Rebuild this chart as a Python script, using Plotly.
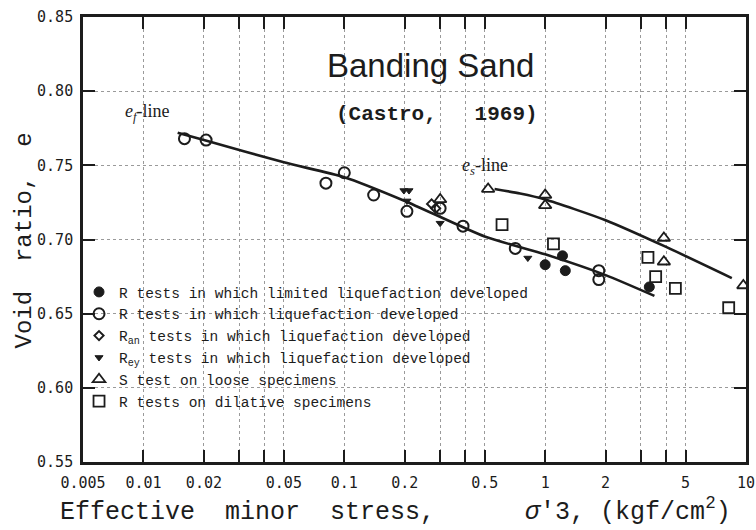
import math
import plotly.graph_objects as go

# ---------------- data ----------------
r_limited_x = [1.0, 1.22, 1.26, 3.3]
r_limited_y = [0.683, 0.689, 0.679, 0.668]

r_liq_x = [0.016, 0.0205, 0.081, 0.10, 0.14, 0.205, 0.30, 0.39, 0.71, 1.85, 1.85]
r_liq_y = [0.768, 0.767, 0.738, 0.745, 0.730, 0.719, 0.721, 0.709, 0.694, 0.679, 0.673]

r_an_x = [0.272, 0.285]
r_an_y = [0.724, 0.721]

r_ey_x = [0.198, 0.21, 0.205, 0.30, 0.82]
r_ey_y = [0.733, 0.733, 0.726, 0.711, 0.6875]

s_loose_x = [0.30, 0.52, 1.0, 1.0, 3.9, 3.9, 9.7]
s_loose_y = [0.727, 0.734, 0.730, 0.723, 0.701, 0.685, 0.669]

r_dil_x = [0.61, 1.1, 3.25, 3.55, 4.45, 8.2]
r_dil_y = [0.710, 0.697, 0.688, 0.675, 0.667, 0.654]

ef_line_x = [0.0148, 0.02, 0.05, 0.1, 0.2, 0.5, 1.0, 2.0, 3.5]
ef_line_y = [0.772, 0.767, 0.752, 0.742, 0.726, 0.702, 0.690, 0.676, 0.662]

es_line_x = [0.56, 0.75, 1.0, 2.0, 4.0, 8.5]
es_line_y = [0.734, 0.731, 0.727, 0.713, 0.695, 0.674]

x_tick_vals = [0.005, 0.01, 0.02, 0.05, 0.1, 0.2, 0.5, 1, 2, 5, 10]
x_tick_text = ["0.005", "0.01", "0.02", "0.05", "0.1", "0.2", "0.5", "1", "2", "5", "10"]
x_minor_vals = [0.03, 0.04, 0.3, 0.4, 3, 4]
y_tick_vals = [0.55, 0.60, 0.65, 0.70, 0.75, 0.80, 0.85]
y_tick_text = ["0.55", "0.60", "0.65", "0.70", "0.75", "0.80", "0.85"]

legend_names = [
    "R tests in which limited liquefaction developed",
    "R tests in which liquefaction developed",
    "R<sub>an</sub> tests in which liquefaction developed",
    "R<sub>ey</sub> tests in which liquefaction developed",
    "S test on loose specimens",
    "R tests on dilative specimens",
]

INK = "#1c1c1c"
GRID = "#9a9a9a"

fig = go.Figure()

# lines
fig.add_trace(go.Scatter(x=ef_line_x, y=ef_line_y, mode="lines",
                         line=dict(color=INK, width=2.6, shape="spline", smoothing=0.6),
                         showlegend=False, hoverinfo="skip"))
fig.add_trace(go.Scatter(x=es_line_x, y=es_line_y, mode="lines",
                         line=dict(color=INK, width=2.6, shape="spline", smoothing=0.6),
                         showlegend=False, hoverinfo="skip"))

# markers
fig.add_trace(go.Scatter(x=r_limited_x, y=r_limited_y, mode="markers", name=legend_names[0],
                         marker=dict(symbol="circle", size=10, color=INK,
                                     line=dict(color=INK, width=1))))
fig.add_trace(go.Scatter(x=r_liq_x, y=r_liq_y, mode="markers", name=legend_names[1],
                         marker=dict(symbol="circle-open", size=11, color=INK,
                                     line=dict(color=INK, width=2))))
fig.add_trace(go.Scatter(x=r_an_x, y=r_an_y, mode="markers", name=legend_names[2],
                         marker=dict(symbol="diamond-open", size=7, color=INK,
                                     line=dict(color=INK, width=2))))
fig.add_trace(go.Scatter(x=r_ey_x, y=r_ey_y, mode="markers", name=legend_names[3],
                         marker=dict(symbol="triangle-down", size=7, color=INK,
                                     line=dict(color=INK, width=1))))
fig.add_trace(go.Scatter(x=s_loose_x, y=s_loose_y, mode="markers", name=legend_names[4],
                         marker=dict(symbol="triangle-up-open", size=11, color=INK,
                                     line=dict(color=INK, width=1.8))))
fig.add_trace(go.Scatter(x=r_dil_x, y=r_dil_y, mode="markers", name=legend_names[5],
                         marker=dict(symbol="square-open", size=11, color=INK,
                                     line=dict(color=INK, width=1.8))))

axis_common = dict(
    showline=True, linecolor=INK, linewidth=2.6, mirror="ticks",
    ticks="inside", ticklen=12, tickwidth=2.4, tickcolor=INK,
    showgrid=True, gridcolor=GRID, gridwidth=1, griddash="dot",
    zeroline=False, automargin=False, ticklabeloverflow="allow",
    tickfont=dict(family="DejaVu Sans Mono", size=15, color=INK),
)

fig.update_xaxes(type="log", range=[math.log10(0.005), 1],
                 tickmode="array", tickvals=x_tick_vals, ticktext=x_tick_text,
                 ticklabelstandoff=5,
                 minor=dict(tickmode="array", tickvals=x_minor_vals, ticks="inside",
                            ticklen=12, tickwidth=2.4, tickcolor=INK, showgrid=True,
                            gridcolor=GRID, gridwidth=1, griddash="dot"),
                 **axis_common)
fig.update_yaxes(range=[0.55, 0.85], tickmode="array",
                 tickvals=y_tick_vals, ticktext=y_tick_text,
                 ticklabelstandoff=4, **axis_common)

annotations = [
    dict(text="Banding Sand", x=0.524, y=0.892, xref="paper", yref="paper",
         xanchor="center", yanchor="middle",
         showarrow=False, font=dict(family="Liberation Sans", size=33, color=INK)),
    dict(text="(Castro,\u00a0\u00a0\u00a01969)", x=0.534, y=0.780,
         xref="paper", yref="paper", xanchor="center", yanchor="middle", showarrow=False,
         font=dict(family="Liberation Mono", size=21, color=INK, weight="bold")),
    dict(text="<i>e</i><sub><i>f</i></sub>-line", x=0.098, y=0.786, xref="paper",
         yref="paper", xanchor="center", yanchor="middle",
         showarrow=False, font=dict(family="Liberation Serif", size=18, color=INK)),
    dict(text="<i>e</i><sub><i>s</i></sub>-line", x=0.606, y=0.663, xref="paper",
         yref="paper", xanchor="center", yanchor="middle",
         showarrow=False, font=dict(family="Liberation Serif", size=18, color=INK)),
    dict(text="Void\u00a0\u00a0ratio,\u00a0\u00a0e", x=-0.088, y=0.497, xref="paper",
         yref="paper", xanchor="center", yanchor="middle", showarrow=False, textangle=-90,
         font=dict(family="Liberation Mono", size=24, color=INK)),
    dict(text="Effective\u00a0\u00a0minor\u00a0\u00a0stress,\u00a0\u00a0\u00a0\u00a0\u00a0\u00a0"
              "<i>σ</i>'3,\u00a0(kgf/cm<sup>2</sup>)",
         x=0.472, y=-0.108, xref="paper", yref="paper", xanchor="center", yanchor="middle",
         showarrow=False,
         font=dict(family="Liberation Mono", size=25, color=INK)),
]

fig.update_layout(
    width=756, height=530,
    margin=dict(l=83, r=10, t=17, b=68, autoexpand=False),
    paper_bgcolor="white", plot_bgcolor="white",
    annotations=annotations,
    showlegend=True,
    legend=dict(x=-0.006, y=0.418, xanchor="left", yanchor="top",
                bgcolor="rgba(0,0,0,0)", borderwidth=0,
                font=dict(family="Liberation Mono", size=14.5, color=INK),
                itemwidth=30),
)

fig.write_html("out.html")
